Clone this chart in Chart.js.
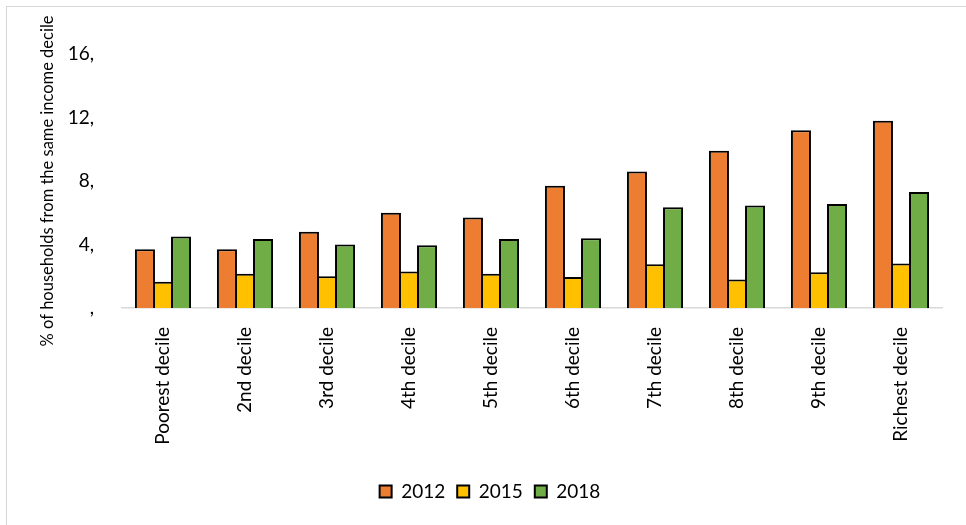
<!DOCTYPE html>
<html>
<head>
<meta charset="utf-8">
<script src="https://cdn.jsdelivr.net/npm/chart.js@4.4.1/dist/chart.umd.min.js"></script>
<style>
  html, body { margin: 0; padding: 0; background: #fff; }
  #wrap { position: relative; width: 966px; height: 525px; overflow: hidden; }
  #frame {
    position: absolute; left: 6px; top: 6px; width: 1000px; height: 600px;
    border-left: 1.5px solid #d6d6d6; border-top: 1.5px solid #d6d6d6;
  }
  #grafica { position: absolute; left: 0; top: 0; }
</style>
</head>
<body>
<div id="wrap">
  <div id="frame"></div>
  <canvas id="grafica" width="966" height="525"></canvas>
</div>
<script>
/* -----------------------------
   DATOS
----------------------------- */
const deciles = ["Poorest decile", "2nd decile", "3rd decile", "4th decile", "5th decile",
                 "6th decile", "7th decile", "8th decile", "9th decile", "Richest decile"];
const anios = ["2012", "2015", "2018"];
const valores2012 = [3.7, 3.7, 4.8, 6.0, 5.7, 7.7, 8.6, 9.9, 11.2, 11.8];
const valores2015 = [1.65, 2.15, 2.0, 2.3, 2.15, 1.95, 2.75, 1.8, 2.25, 2.8];
const valores2018 = [4.5, 4.35, 4.0, 3.95, 4.35, 4.4, 6.35, 6.45, 6.55, 7.3];
const etiquetasY = [",", "4,", "8,", "12,", "16,"];

const colores = ["#ED7D31", "#FFC000", "#70AD47"];
const fuente = "Lato, 'Open Sans', sans-serif";

function crearSerie(label, data, color) {
    return {
        label: label,
        data: data,
        backgroundColor: color,
        borderColor: "#000",
        borderWidth: 2,
        categoryPercentage: 0.66,
        barPercentage: 1.11
    };
}

const ctx = document.getElementById("grafica");

new Chart(ctx, {
    type: "bar",
    data: {
        labels: deciles,
        datasets: [
            crearSerie(anios[0], valores2012, colores[0]),
            crearSerie(anios[1], valores2015, colores[1]),
            crearSerie(anios[2], valores2018, colores[2])
        ]
    },
    options: {
        responsive: false,
        animation: false,
        layout: { padding: { left: 38, top: 54, right: 24, bottom: 14 } },
        plugins: {
            legend: {
                position: "bottom",
                labels: {
                    boxWidth: 12,
                    boxHeight: 12,
                    padding: 12,
                    color: "#000",
                    font: { family: fuente, size: 19 }
                }
            },
            tooltip: { enabled: false }
        },
        scales: {
            x: {
                grid: { display: false },
                border: { display: true, color: "#d9d9d9", width: 1.5 },
                ticks: {
                    color: "#000",
                    font: { family: fuente, size: 19 },
                    minRotation: 90,
                    maxRotation: 90,
                    padding: 11,
                    autoSkip: false
                },
                afterFit: (scale) => { scale.height = 162; }
            },
            y: {
                min: 0,
                max: 16,
                grid: { display: false },
                border: { display: false },
                ticks: {
                    stepSize: 4,
                    color: "#000",
                    padding: 20,
                    font: { family: fuente, size: 19 },
                    callback: (valor, i) => etiquetasY[i]
                },
                title: {
                    display: true,
                    text: "% of households from the same income decile",
                    color: "#000",
                    padding: 0,
                    font: { family: fuente, size: 16.5 }
                },
                afterFit: (scale) => { scale.width = 84; }
            }
        }
    }
});
</script>
</body>
</html>
